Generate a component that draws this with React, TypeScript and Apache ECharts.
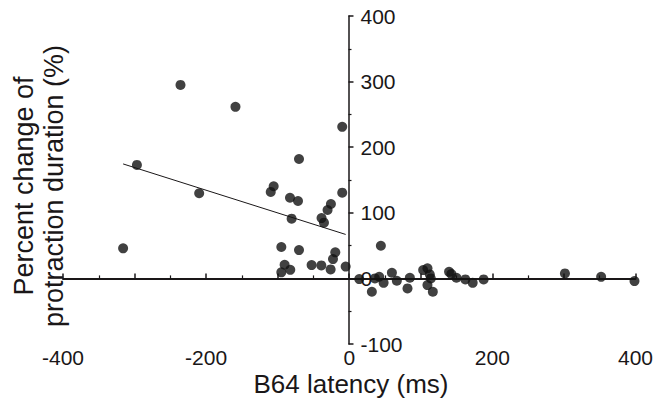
import React, { useEffect, useRef } from "react";
import * as echarts from "echarts";

const latency = [
  -316, -296.7, -235.8, -209.7, -159, -109.7, -105.6, -94.9, -94.9, -90.3,
  -82.8, -82.4, -80.5, -71.6, -70.2, -70.2, -52.6, -39, -38.7, -35.3,
  -30.3, -26, -25.6, -22.7, -19.5, -9.8, -9.8, -5,
  14, 31.6, 35.9, 41.9, 44.2, 48, 59.6, 66.5, 81.4, 84.7,
  103.3, 109.3, 112.6, 114, 109.3, 116.8, 139.5, 142.7, 149.8, 162.3,
  172.5, 187.8, 301.4, 352, 398.6,
];
const change = [
  45.8, 173, 295, 129.8, 261.5, 131.8, 140.5, 47.8, 9.2, 20.8,
  123, 13.1, 91, 118, 182, 43.2, 20.3, 19.8, 92, 85,
  104.3, 13.7, 113.4, 29.5, 39.7, 231, 130.7, 18,
  -1, -20.4, 0, 2.5, 49.8, -6.7, 8.6, -3.6, -15.3, 1,
  12.7, 15.3, 6.1, 0, -10.2, -20.4, 10, 6.6, 1, -1.5,
  -6.7, -1.5, 7.6, 2.4, -4.1,
];
const fitX = [-316, -5];
const fitY = [174.5, 67];
const xTickLabels = ["-400", "-200", "0", "200", "400"];
const yTickLabels = ["-100", "0", "100", "200", "300", "400"];

const INK = "#1a1718";
const DOT = "#111111";
const FONT = "Liberation Sans, Arial, Helvetica, sans-serif";

const GRID_LEFT = 63;
const GRID_RIGHT = 19;
const WIDTH = 656;

export default function App() {
  const ref = useRef<HTMLDivElement>(null);
  useEffect(() => {
    document.body.style.margin = "0";
    const chart = echarts.init(ref.current!, null, { renderer: "svg" });
    const points = latency.map((x, i) => [x, change[i]]);
    const fit = fitX.map((x, i) => [x, fitY[i]]);
    const plotW = WIDTH - GRID_LEFT - GRID_RIGHT;
    const yOffset = -plotW * (400 / 800);
    chart.setOption({
      animation: false,
      backgroundColor: "#ffffff",
      grid: { left: GRID_LEFT, right: GRID_RIGHT, top: 16, bottom: 59 },
      xAxis: [
        {
          type: "value",
          min: -400,
          max: 400,
          interval: 100,
          position: "bottom",
          axisLine: { show: true, onZero: true, lineStyle: { color: INK, width: 2 } },
          axisTick: { show: true, inside: true, length: 5, lineStyle: { color: INK, width: 1.5 } },
          minorTick: { show: true, splitNumber: 2, length: 3, lineStyle: { color: INK, width: 1.2 } },
          axisLabel: { show: false },
          splitLine: { show: false },
        },
        {
          type: "value",
          min: -400,
          max: 400,
          interval: 200,
          position: "bottom",
          axisLine: { show: false, onZero: false },
          axisTick: { show: false },
          axisLabel: {
            show: true,
            margin: 3,
            color: INK,
            fontSize: 21,
            fontFamily: FONT,
            showMinLabel: true,
            showMaxLabel: true,
            formatter: (v: number) => xTickLabels[Math.round((v + 400) / 200)] ?? String(v),
          },
          splitLine: { show: false },
        },
      ],
      yAxis: {
        type: "value",
        min: -100,
        max: 400,
        interval: 100,
        position: "right",
        offset: yOffset,
        axisLine: { show: true, onZero: false, lineStyle: { color: INK, width: 1.5 } },
        axisTick: { show: true, inside: false, length: 5, lineStyle: { color: INK, width: 1.5 } },
        minorTick: { show: true, splitNumber: 2, length: 3, lineStyle: { color: INK, width: 1.2 } },
        axisLabel: {
          show: true,
          inside: false,
          margin: 12,
          color: INK,
          fontSize: 21,
          fontFamily: FONT,
          showMinLabel: true,
          showMaxLabel: true,
          formatter: (v: number) => yTickLabels[Math.round((v + 100) / 100)] ?? String(v),
        },
        splitLine: { show: false },
      },
      graphic: [
        {
          type: "text",
          x: 351,
          y: 384,
          style: {
            text: "B64 latency (ms)",
            font: `26px ${FONT}`,
            fill: INK,
            textAlign: "center",
            textVerticalAlign: "middle",
          },
        },
        {
          type: "text",
          x: 39,
          y: 186,
          rotation: Math.PI / 2,
          style: {
            text: "Percent change of\nprotraction duration (%)",
            font: `27px ${FONT}`,
            lineHeight: 30,
            fill: INK,
            textAlign: "center",
            textVerticalAlign: "middle",
          },
        },
      ],
      series: [
        {
          type: "line",
          data: fit,
          xAxisIndex: 0,
          symbol: "none",
          lineStyle: { color: INK, width: 1 },
          z: 3,
        },
        {
          type: "scatter",
          data: points,
          xAxisIndex: 0,
          symbol: "circle",
          symbolSize: 10,
          itemStyle: { color: DOT },
          z: 4,
        },
      ],
    });
    return () => chart.dispose();
  }, []);
  return (
    <div
      ref={ref}
      style={{ position: "fixed", left: 0, top: 0, width: WIDTH, height: 403, background: "#fff" }}
    />
  );
}
